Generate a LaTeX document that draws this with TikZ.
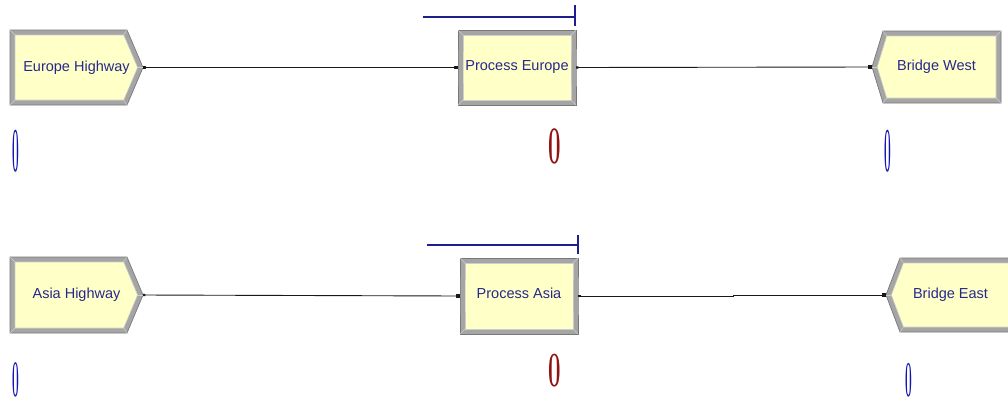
\documentclass[tikz,border=0pt]{standalone}
\usepackage{fontspec}
\newfontfamily\labelfont{Liberation Sans}
\usetikzlibrary{arrows.meta}

\definecolor{modfill}{RGB}{255,255,200}
\definecolor{modbevel}{RGB}{165,165,165}
\definecolor{modedge}{RGB}{120,120,120}
\definecolor{modinner}{RGB}{205,205,205}
\definecolor{labelblue}{RGB}{40,40,140}
\definecolor{resblue}{RGB}{30,30,140}
\definecolor{cntred}{RGB}{145,20,20}
\definecolor{cntblue}{RGB}{20,20,180}
\definecolor{connblack}{RGB}{25,25,25}

\tikzset{
  modlabel/.style={font=\labelfont\fontsize{14.5}{16}\selectfont, text=labelblue,
    inner sep=0pt, shape=rectangle},
  conn/.style={draw=connblack, line width=0.9pt,
    {Square[length=2.2pt,width=2.2pt]}-{Square[length=3.6pt,width=3.6pt]}},
  resline/.style={draw=resblue, line width=1.4pt},
  cntblue/.style={font=\bfseries\fontsize{60}{60}\selectfont, text=cntblue, inner sep=0pt,
    anchor=base, xscale=0.2},
  cntred/.style={font=\bfseries\fontsize{53}{53}\selectfont, text=cntred, inner sep=0pt,
    anchor=base, xscale=0.42},
}

% corner points of a bevelled module outline at offsets 0 (outer) and 5 (inner)
% #1 name, #2 x1, #3 y1, #4 x2, #5 y2, #6 left point depth, #7 right point depth
\newcommand\modpoly[7]{%
  \pgfmathsetmacro\ymid{(#3+#5)/2}%
  \pgfmathsetmacro\hhalf{(#5-#3)/2}%
  \foreach \offs/\tg in {0/o,5/i}{%
    \pgfmathsetmacro\sL{\offs*sqrt(1+(#6/\hhalf)^2)}%
    \pgfmathsetmacro\sR{\offs*sqrt(1+(#7/\hhalf)^2)}%
    \pgfmathsetmacro\xa{#2+#6-\offs*#6/\hhalf+\sL}%
    \pgfmathsetmacro\xb{#4-#7+\offs*#7/\hhalf-\sR}%
    \pgfmathsetmacro\xt{#4-\sR}%
    \pgfmathsetmacro\xl{#2+\sL}%
    \pgfmathsetmacro\yt{#3+\offs}%
    \pgfmathsetmacro\yb{#5-\offs}%
    \coordinate (#1-\tg1) at (\xa,\yt);
    \coordinate (#1-\tg2) at (\xb,\yt);
    \coordinate (#1-\tg3) at (\xt,\ymid);
    \coordinate (#1-\tg4) at (\xb,\yb);
    \coordinate (#1-\tg5) at (\xa,\yb);
    \coordinate (#1-\tg6) at (\xl,\ymid);
  }%
}

% a module: bevelled frame, yellow face and its label node
\newcommand\modbox[8]{%
  \modpoly{#1}{#2}{#3}{#4}{#5}{#6}{#7}%
  \filldraw[fill=modbevel, draw=modedge, line width=0.7pt]
    (#1-o1)--(#1-o2)--(#1-o3)--(#1-o4)--(#1-o5)--(#1-o6)--cycle;
  \foreach \kk in {1,2,4,5}{\draw[modinner, line width=0.5pt] (#1-o\kk)--(#1-i\kk);}
  \ifdim #7pt>0pt \draw[modinner, line width=0.5pt] (#1-o3)--(#1-i3);\fi
  \ifdim #6pt>0pt \draw[modinner, line width=0.5pt] (#1-o6)--(#1-i6);\fi
  \filldraw[fill=modfill, draw=modinner, line width=0.6pt]
    (#1-i1)--(#1-i2)--(#1-i3)--(#1-i4)--(#1-i5)--(#1-i6)--cycle;
  \pgfmathsetmacro\mw{#4-#2}%
  \pgfmathsetmacro\mh{#5-#3}%
  \node[modlabel, minimum width=\mw pt, minimum height=\mh pt] (#1)
    at ({(#2+#4)/2},{(#3+#5)/2}) {#8};
}

\begin{document}
\begin{tikzpicture}[x=1pt, y=-1pt]
\useasboundingbox (0,0) rectangle (1008,400);
\fill[white] (0,0) rectangle (1008,400);
\clip (0,0) rectangle (1008,400);

% Europe line
\modbox{eh}{10}{30}{143}{105}{0}{16}{Europe Highway}
\modbox{pe}{458}{30}{576}{105}{0}{0}{Process Europe}
\modbox{bw}{872}{31}{1001}{103}{11}{0}{Bridge West}

% Asia line
\modbox{ah}{10}{257}{143}{333}{0}{16}{Asia Highway}
\modbox{pa}{460}{258}{578}{334}{0}{0}{\raisebox{2.5pt}[\height][\depth]{Process Asia}}
\modbox{be}{886}{258}{1015}{332}{14}{0}{Bridge East}

% connectors
\draw[conn] (eh.east) -- (pe.west);
\draw[conn] (pe.east) -- (bw.west);
\draw[conn] (ah.east) -- (pa.west);
\coordinate (jog) at (733,295);
\draw[conn] (pa.east) -| (jog) -- (be.west);

% resource queues above the processes
\draw[resline] (423,17) -- (575,17);
\draw[resline] (575,5) -- (575,26);
\draw[resline] (427,245) -- (578,245);
\draw[resline] (578,235) -- (578,254);

% counters
\node[cntblue, yscale=1.05] (ehc) at (16,171) {0};
\node[cntred] (pec) at (555,163) {0};
\node[cntblue, yscale=1.05] (bwc) at (888,171) {0};
\node[cntblue, yscale=0.86] (ahc) at (16,396) {0};
\node[cntred, yscale=0.93] (pac) at (555,386) {0};
\node[cntblue, yscale=0.84] (bec) at (909,396) {0};
\end{tikzpicture}
\end{document}
